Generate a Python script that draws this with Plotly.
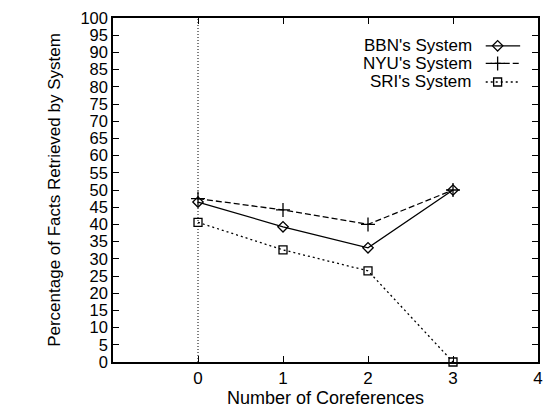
import plotly.graph_objects as go

x_vals = [0, 1, 2, 3]
bbn = [46.5, 39.3, 33.2, 50.0]
nyu = [47.5, 44.2, 40.0, 50.0]
sri = [40.6, 32.6, 26.5, 0.0]
series_names = ["BBN's System", "NYU's System", "SRI's System"]
y_ticks = list(range(0, 101, 5))
x_ticks = [0, 1, 2, 3, 4]

FONT = "Liberation Sans, Arial, Helvetica, sans-serif"
styles = [
    dict(dash="solid", symbol="diamond-open", size=8),
    dict(dash="6px,3px", symbol="cross-thin-open", size=10),
    dict(dash="2px,3px", symbol="square-open", size=8),
]

fig = go.Figure()
for name, ys, st in zip(series_names, [bbn, nyu, sri], styles):
    fig.add_trace(go.Scatter(
        x=x_vals, y=ys, mode="lines+markers", name=name,
        line=dict(color="black", width=1.3, dash=st["dash"]),
        marker=dict(symbol=st["symbol"], size=st["size"], color="black",
                    line=dict(color="black", width=1.3)),
        showlegend=False, cliponaxis=False,
    ))

# vertical dotted line at x=0
fig.add_shape(type="line", x0=0, x1=0, y0=0, y1=100, xref="x", yref="y",
              line=dict(color="black", width=1, dash="1px,2px"))

# custom legend (text right aligned, sample on the right)
leg_y = [0.919, 0.868, 0.814]
for name, st, ly in zip(series_names, styles, leg_y):
    fig.add_annotation(x=0.849, y=ly, xref="paper", yref="paper", text=name,
                       showarrow=False, xanchor="right", yanchor="middle",
                       font=dict(family=FONT, size=17, color="black"))
    fig.add_shape(type="line", x0=0.877, x1=0.958, y0=ly, y1=ly,
                  xref="paper", yref="paper",
                  line=dict(color="black", width=1.3, dash=st["dash"]))
    fig.add_trace(go.Scatter(
        x=[0.905], y=[ly], xaxis="x2", yaxis="y2", mode="markers",
        marker=dict(symbol=st["symbol"], size=st["size"], color="black",
                    line=dict(color="black", width=1.3)),
        showlegend=False, hoverinfo="skip", cliponaxis=False))

axis_common = dict(showgrid=False, zeroline=False, showline=True, linecolor="black",
                   linewidth=1.5, ticks="inside", ticklen=6, tickcolor="black",
                   mirror="ticks", ticklabeloverflow="allow")

fig.update_layout(
    width=544, height=408,
    margin=dict(l=113, r=1, t=18, b=46),
    paper_bgcolor="white", plot_bgcolor="white",
    xaxis=dict(range=[-1, 4], tickvals=x_ticks, ticktext=[str(v) for v in x_ticks],
               tickfont=dict(family=FONT, size=17, color="black"),
               title=dict(text="Number of Coreferences", standoff=0,
                          font=dict(family=FONT, size=18, color="black")),
               **axis_common),
    yaxis=dict(range=[0, 100], tickvals=y_ticks, ticktext=[str(v) for v in y_ticks],
               tickfont=dict(family=FONT, size=16.5, color="black"),
               title=dict(text="Percentage of Facts Retrieved by System", standoff=15,
                          font=dict(family=FONT, size=17, color="black")),
               **axis_common),
    xaxis2=dict(range=[0, 1], overlaying="x", visible=False, domain=[0, 1]),
    yaxis2=dict(range=[0, 1], overlaying="y", visible=False),
    showlegend=False,
)

fig.write_html("out.html")
